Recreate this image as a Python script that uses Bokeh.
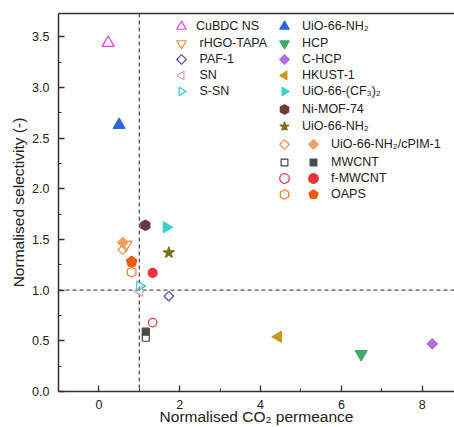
import numpy as np
from bokeh.plotting import figure
from bokeh.models import (Span, Legend, LegendItem, LinearAxis, FixedTicker, Range1d,
                          SingleIntervalTicker, NumeralTickFormatter)
from bokeh.embed import file_html
from bokeh.resources import INLINE

# ---------------- data ----------------
cubdc_x, cubdc_y = [0.23], [3.44]
rhgo_x, rhgo_y = [0.67], [1.45]
paf_x, paf_y = [1.73], [0.94]
sn_x, sn_y = [1.01], [0.99]
ssn_x, ssn_y = [1.01], [1.04]
uio_nh2_x, uio_nh2_y = [0.50], [2.63]
hcp_x, hcp_y = [6.49], [0.37]
chcp_x, chcp_y = [8.25], [0.47]
hkust_x, hkust_y = [4.44], [0.54]
uio_cf3_x, uio_cf3_y = [1.67], [1.62]
nimof_x, nimof_y = [1.15], [1.64]
uio_star_x, uio_star_y = [1.73], [1.37]
cpim_open_x, cpim_open_y = [0.59], [1.40]
cpim_fill_x, cpim_fill_y = [0.59], [1.47]
mwcnt_open_x, mwcnt_open_y = [1.16], [0.53]
mwcnt_fill_x, mwcnt_fill_y = [1.16], [0.59]
fmw_open_x, fmw_open_y = [1.33], [0.68]
fmw_fill_x, fmw_fill_y = [1.33], [1.17]
oaps_open_x, oaps_open_y = [0.81], [1.18]
oaps_fill_x, oaps_fill_y = [0.81], [1.28]

threshold_x = 1.0
threshold_y = 1.0

x_ticks_interval = 2
y_ticks_interval = 0.5

FONT = "Liberation Sans"
TXT = "#222222"

p = figure(width=454, height=427, x_range=Range1d(-1, 8.8), y_range=Range1d(0, 3.73),
           output_backend="svg", toolbar_location=None,
           min_border_left=58, min_border_right=0, min_border_top=13, min_border_bottom=36)
p.outline_line_color = None
p.grid.visible = False
p.background_fill_color = "white"
p.border_fill_color = "white"

p.xaxis.ticker = SingleIntervalTicker(interval=x_ticks_interval, num_minor_ticks=2)
p.yaxis.ticker = SingleIntervalTicker(interval=y_ticks_interval, num_minor_ticks=2)
p.yaxis.formatter = NumeralTickFormatter(format="0.0")
p.xaxis.axis_label = "Normalised CO\u2082 permeance"
p.yaxis.axis_label = "Normalised selectivity (-)"

for ax in (p.xaxis[0], p.yaxis[0]):
    ax.axis_line_width = 1.5
    ax.axis_line_color = "#333333"
    ax.major_tick_in = 6
    ax.major_tick_out = 0
    ax.minor_tick_in = 3
    ax.minor_tick_out = 0
    ax.major_tick_line_color = "#333333"
    ax.minor_tick_line_color = "#333333"
    ax.major_tick_line_width = 1.3
    ax.minor_tick_line_width = 1.1
    ax.major_label_text_font = FONT
    ax.major_label_text_font_size = "12.5px"
    ax.major_label_text_color = TXT
    ax.axis_label_text_font = FONT
    ax.axis_label_text_font_size = "15.5px"
    ax.axis_label_text_font_style = "normal"
    ax.axis_label_text_color = TXT
p.xaxis.major_label_standoff = 8
p.xaxis.axis_label_standoff = -4
p.yaxis.major_label_standoff = 9
p.yaxis.axis_label_standoff = 2

top = LinearAxis(ticker=FixedTicker(ticks=[]), major_label_text_font_size="0px",
                 axis_line_width=1.5, axis_line_color="#333333",
                 major_tick_line_color=None, minor_tick_line_color=None)
p.add_layout(top, "above")

p.add_layout(Span(location=threshold_x, dimension="height", line_dash="4 3",
                  line_color="#555555", line_width=1.3, level="underlay"))
p.add_layout(Span(location=threshold_y, dimension="width", line_dash="4 3",
                  line_color="#555555", line_width=1.3, level="underlay"))


def sc(x, y, marker, color, filled, size):
    return p.scatter(x, y, marker=marker, size=size, line_color=color,
                     fill_color=color if filled else None, line_width=1.2)


def ng(x, y, n, color, filled, r, angle=0.0):
    return p.ngon(x=x, y=y, radius=r, radius_units="screen", n=n, angle=angle,
                  line_color=color, fill_color=color if filled else None, line_width=1.2)


LEFT = np.pi / 2
RIGHT = -np.pi / 2
SQUARE = np.pi / 4

r_cubdc = sc(cubdc_x, cubdc_y, "triangle", "#dd3cf2", False, 12)
r_rhgo = sc(rhgo_x, rhgo_y, "inverted_triangle", "#f08c3c", False, 12)
r_paf = ng(paf_x, paf_y, 4, "#5a50a8", False, 4.8)
r_sn = ng(sn_x, sn_y, 3, "#d8a0ac", False, 6, LEFT)
r_ssn = ng(ssn_x, ssn_y, 3, "#30c8d0", False, 6, RIGHT)
r_uio = sc(uio_nh2_x, uio_nh2_y, "triangle", "#2d68d8", True, 12)
r_hcp = sc(hcp_x, hcp_y, "inverted_triangle", "#40a868", True, 12)
r_chcp = ng(chcp_x, chcp_y, 4, "#b070e0", True, 5.2)
r_hkust = ng(hkust_x, hkust_y, 3, "#c8961e", True, 6.3, LEFT)
r_cf3 = ng(uio_cf3_x, uio_cf3_y, 3, "#40d0cc", True, 6.3, RIGHT)
r_nimof = ng(nimof_x, nimof_y, 6, "#6b3a3a", True, 5.2)
r_star = sc(uio_star_x, uio_star_y, "star", "#7a7418", True, 12)
r_cpim_o = ng(cpim_open_x, cpim_open_y, 4, "#f09040", False, 4.8)
r_cpim_f = ng(cpim_fill_x, cpim_fill_y, 4, "#f0a060", True, 5.2)
r_mw_o = ng(mwcnt_open_x, mwcnt_open_y, 4, "#444444", False, 4.9, SQUARE)
r_mw_f = ng(mwcnt_fill_x, mwcnt_fill_y, 4, "#4a4a4a", True, 5.0, SQUARE)
r_fmw_o = sc(fmw_open_x, fmw_open_y, "circle", "#e8333c", False, 8.5)
r_fmw_f = sc(fmw_fill_x, fmw_fill_y, "circle", "#e8333c", True, 9)
r_oaps_o = ng(oaps_open_x, oaps_open_y, 6, "#f07a20", False, 5)
r_oaps_f = ng(oaps_fill_x, oaps_fill_y, 5, "#f05a0a", True, 5.5)

# ---------------- legend: one row per Legend so rows sit where the reference has them
FRAME_LEFT = 58
FRAME_TOP = 13
FRAME_H = 378
GLYPH = 24


def row(label, rend, cx, cy, text_x):
    leg = Legend(items=[LegendItem(label=label, renderers=[rend])],
                 location=(cx - GLYPH / 2 - FRAME_LEFT,
                           FRAME_H - (cy - FRAME_TOP) - GLYPH / 2),
                 glyph_width=GLYPH, glyph_height=GLYPH, label_height=14,
                 spacing=0, padding=0, margin=0,
                 label_standoff=int(round(text_x - (cx + GLYPH / 2))),
                 border_line_color=None, background_fill_alpha=0,
                 label_text_font=FONT, label_text_font_size="12.5px",
                 label_text_color=TXT)
    p.add_layout(leg)


C1, C1T = 181, 196
C2, C2T = 284, 302
C3, C3T = 313, 331

row("CuBDC NS", r_cubdc, C1, 26, C1T)
row(" rHGO-TAPA", r_rhgo, C1, 42.7, C1T)
row(" PAF-1", r_paf, C1, 59.3, C1T)
row(" SN", r_sn, C1, 75, C1T)
row(" S-SN", r_ssn, C1, 90.5, C1T)

row("UiO-66-NH\u2082", r_uio, C2, 26, C2T)
row("HCP", r_hcp, C2, 42.7, C2T)
row("C-HCP", r_chcp, C2, 59.3, C2T)
row("HKUST-1", r_hkust, C2, 75, C2T)
row("UiO-66-(CF\u2083)\u2082", r_cf3, C2, 91, C2T)
row("Ni-MOF-74", r_nimof, C2, 109.3, C2T)
row("UiO-66-NH\u2082", r_star, C2, 126, C2T)
row(" ", r_cpim_o, C2, 144, C2T)
row(" ", r_mw_o, C2, 162.3, C2T)
row(" ", r_fmw_o, C2, 178.3, C2T)
row(" ", r_oaps_o, C2, 194, C2T)

row("UiO-66-NH\u2082/cPIM-1", r_cpim_f, C3, 144, C3T)
row("MWCNT", r_mw_f, C3, 162.3, C3T)
row("f-MWCNT", r_fmw_f, C3, 178.3, C3T)
row("OAPS", r_oaps_f, C3, 194, C3T)

open("out.html", "w").write(file_html(p, INLINE))
